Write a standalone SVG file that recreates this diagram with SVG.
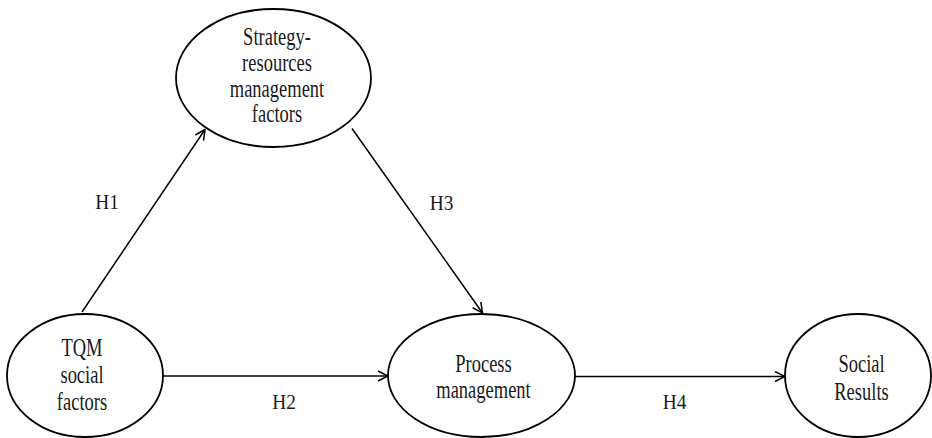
<svg xmlns="http://www.w3.org/2000/svg" width="932" height="438" viewBox="0 0 932 438">
<defs>
<style>
.node ellipse{fill:#fff;stroke:#000;stroke-width:1.8}
.t{font-family:"Liberation Serif","Times New Roman",serif;font-size:25px;fill:#1a1a1a;text-anchor:middle}
.lbl{font-family:"Liberation Serif","Times New Roman",serif;font-size:22px;fill:#1a1a1a;text-anchor:middle}
.edge{stroke:#000;stroke-width:1.5;fill:none;marker-end:url(#arr)}
</style>
<marker id="arr" viewBox="0 0 12 12" refX="11" refY="6" markerWidth="12" markerHeight="12" markerUnits="userSpaceOnUse" orient="auto">
<path d="M1,1 L11,6 L1,11" fill="none" stroke="#000" stroke-width="1.5"/>
</marker>
</defs>
<rect width="932" height="438" fill="#fff"/>
<g id="connectors">
<line class="edge" x1="82" y1="312" x2="205" y2="129.5"/>
<line class="edge" x1="352" y1="128.5" x2="482.5" y2="313"/>
<line class="edge" x1="163" y1="376" x2="388" y2="376"/>
<line class="edge" x1="575" y1="376.5" x2="785" y2="376.5"/>
<g transform="translate(107 0) scale(0.88 1)"><text class="lbl" x="0" y="209">H1</text></g>
<g transform="translate(441.5 0) scale(0.88 1)"><text class="lbl" x="0" y="210.5">H3</text></g>
<g transform="translate(284 0) scale(0.88 1)"><text class="lbl" x="0" y="409">H2</text></g>
<g transform="translate(674.5 0) scale(0.88 1)"><text class="lbl" x="0" y="409">H4</text></g>
</g>
<g id="strategy" class="node">
<ellipse cx="273.5" cy="78" rx="97.5" ry="69"/>
<g transform="translate(277 0) scale(0.74 1)">
<text class="t" x="0" y="45">Strategy-</text>
<text class="t" x="0" y="71.5">resources</text>
<text class="t" x="0" y="97">management</text>
<text class="t" x="0" y="122.5">factors</text>
</g>
</g>
<g id="tqm" class="node">
<ellipse cx="85" cy="375.5" rx="78" ry="61.5"/>
<g transform="translate(82 0) scale(0.74 1)">
<text class="t" x="0" y="356">TQM</text>
<text class="t" x="0" y="383">social</text>
<text class="t" x="0" y="410">factors</text>
</g>
</g>
<g id="process" class="node">
<ellipse cx="481.5" cy="375.5" rx="93.5" ry="61.5"/>
<g transform="translate(483.5 0) scale(0.74 1)">
<text class="t" x="0" y="372">Process</text>
<text class="t" x="0" y="398">management</text>
</g>
</g>
<g id="social" class="node">
<ellipse cx="858" cy="375.5" rx="73" ry="61.5"/>
<g transform="translate(861.5 0) scale(0.74 1)">
<text class="t" x="0" y="372">Social</text>
<text class="t" x="0" y="400">Results</text>
</g>
</g>
</svg>
